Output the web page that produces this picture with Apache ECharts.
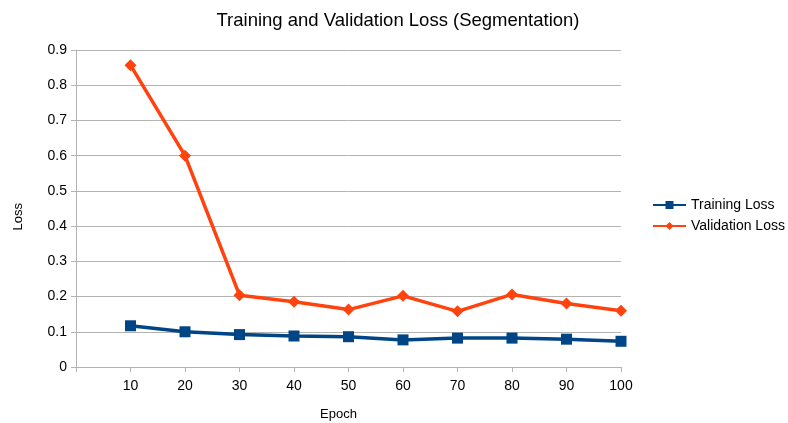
<!DOCTYPE html>
<html>
<head>
<meta charset="utf-8">
<script src="https://cdn.jsdelivr.net/npm/echarts@6/dist/echarts.min.js"></script>
<style>
  html, body { margin: 0; padding: 0; background: #fff; }
  #chart { width: 788px; height: 423px; }
</style>
</head>
<body>
<div id="chart"></div>
<script>
const epochs = [10, 20, 30, 40, 50, 60, 70, 80, 90, 100];
const trainingLoss = [0.117, 0.100, 0.092, 0.088, 0.086, 0.077, 0.082, 0.082, 0.079, 0.073];
const validationLoss = [0.857, 0.600, 0.204, 0.185, 0.163, 0.202, 0.158, 0.206, 0.180, 0.160];

const pair = (vals) => epochs.map((e, i) => [e, vals[i]]);
const textColor = "#000";
const font = "Liberation Sans";

// 基于准备好的dom，初始化echarts实例
let chart = echarts.init(document.getElementById("chart"));
let option = {
  animation: false,
  textStyle: { fontFamily: font },
  title: {
    text: "Training and Validation Loss (Segmentation)",
    left: 393,
    textAlign: "center",
    top: 6,
    textStyle: { fontFamily: font, fontSize: 18.5, fontWeight: "normal", color: textColor }
  },
  legend: {
    orient: "vertical",
    left: 647,
    top: 193,
    itemWidth: 33,
    itemHeight: 10,
    itemGap: 7,
    textStyle: { fontFamily: font, fontSize: 14, color: textColor },
    data: ["Training Loss", "Validation Loss"]
  },
  // y axis title, placed off-centre as in the original
  graphic: [{
    type: "text",
    left: 12,
    top: 203,
    rotation: Math.PI / 2,
    style: { text: "Loss", fontFamily: font, fontSize: 13, fill: textColor }
  }],
  grid: { left: 76, right: 167, top: 50, bottom: 56, containLabel: false, outerBoundsMode: "none" },
  xAxis: {
    type: "value",
    min: 0,
    max: 100,
    interval: 10,
    name: "Epoch",
    nameLocation: "middle",
    nameGap: 41,
    nameTextStyle: { fontFamily: font, fontSize: 13, color: textColor, padding: [0, 20, 0, 0] },
    axisLine: { lineStyle: { color: "#b3b3b3", width: 1 } },
    axisTick: { show: true, length: 5, lineStyle: { color: "#b3b3b3" } },
    axisLabel: {
      fontFamily: font, fontSize: 14, color: textColor, margin: 12,
      formatter: (v) => (v === 0 ? "" : String(v))
    },
    splitLine: { show: false }
  },
  yAxis: {
    type: "value",
    min: 0,
    max: 0.9,
    interval: 0.1,
    axisLine: { show: true, lineStyle: { color: "#b3b3b3", width: 1 } },
    axisTick: { show: true, length: 5, lineStyle: { color: "#b3b3b3" } },
    axisLabel: {
      fontFamily: font, fontSize: 14, color: textColor, margin: 9,
      formatter: (v) => (v === 0 ? "0" : v.toFixed(1))
    },
    splitLine: { show: true, lineStyle: { color: "#b3b3b3", width: 1 } }
  },
  series: [
    {
      name: "Training Loss",
      type: "line",
      data: pair(trainingLoss),
      symbol: "rect",
      symbolSize: 11,
      itemStyle: { color: "#004586" },
      lineStyle: { color: "#004586", width: 3.5 }
    },
    {
      name: "Validation Loss",
      type: "line",
      data: pair(validationLoss),
      symbol: "diamond",
      symbolSize: 12,
      itemStyle: { color: "#ff420e" },
      lineStyle: { color: "#ff420e", width: 3.5 }
    }
  ]
};
chart.setOption(option);
window.addEventListener("resize", () => chart.resize(), false);
</script>
</body>
</html>
